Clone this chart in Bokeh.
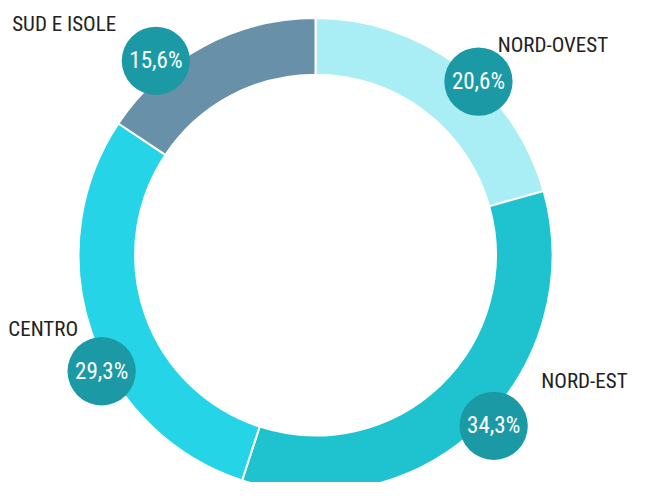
import math
from bokeh.plotting import figure
from bokeh.models import Range1d
from bokeh.core.properties import value
from bokeh.embed import file_html
from bokeh.resources import INLINE

# ---- data ----
regions = ["NORD-OVEST", "NORD-EST", "CENTRO", "SUD E ISOLE"]
shares = [20.6, 34.3, 29.3, 15.6]
pct_labels = ["20,6%", "34,3%", "29,3%", "15,6%"]

# ---- styles / layout ----
colors = ["#a9eef5", "#1fc3cf", "#25d4e6", "#6890a8"]
badge_color = "#1b9aa6"
FONT = "Roboto Condensed"
W, H = 646, 498
CX, CY = 323, 263            # ring centre (reference px)
R_OUT, R_IN = 243, 185
badge_angle = [43.0, 134.0, 241.3, 320.8]   # degrees clockwise from top
badge_dist = [245, 254, 250, 259]
badge_r = 35
label_pos = [(623, 46, "right"), (643, 393, "right"), (8, 339, "left"), (12, 24, "left")]


def Y(py):
    return H - py


p = figure(width=W - 16, height=H - 16, output_backend="svg", toolbar_location=None,
           x_range=Range1d(0, W), y_range=Range1d(0, H),
           min_border=0, outline_line_color=None)
p.axis.visible = False
p.grid.visible = False

total = sum(shares)
start = 0.0
for v, c in zip(shares, colors):
    a0 = math.radians(90 - start / total * 360)
    a1 = math.radians(90 - (start + v) / total * 360)
    p.annular_wedge(x=CX, y=Y(CY), inner_radius=R_IN, outer_radius=R_OUT,
                    start_angle=a0, end_angle=a1, direction="clock",
                    fill_color=c, line_color="white", line_width=2)
    start += v

bx = [CX + d * math.sin(math.radians(a)) for a, d in zip(badge_angle, badge_dist)]
by = [Y(CY) + d * math.cos(math.radians(a)) for a, d in zip(badge_angle, badge_dist)]
p.circle(x=bx, y=by, radius=badge_r, fill_color=badge_color, line_color=None)
p.text(x=bx, y=by, text=pct_labels, text_color="white",
       text_font=value(FONT), text_font_size="23px",
       text_align="center", text_baseline="middle")

for name, (lx, ly, al) in zip(regions, label_pos):
    p.text(x=[lx], y=[Y(ly)], text=[name], text_color="#222222",
           text_font=value(FONT), text_font_size="21px",
           text_align=al, text_baseline="middle")

open("out.html", "w").write(file_html(p, INLINE))
